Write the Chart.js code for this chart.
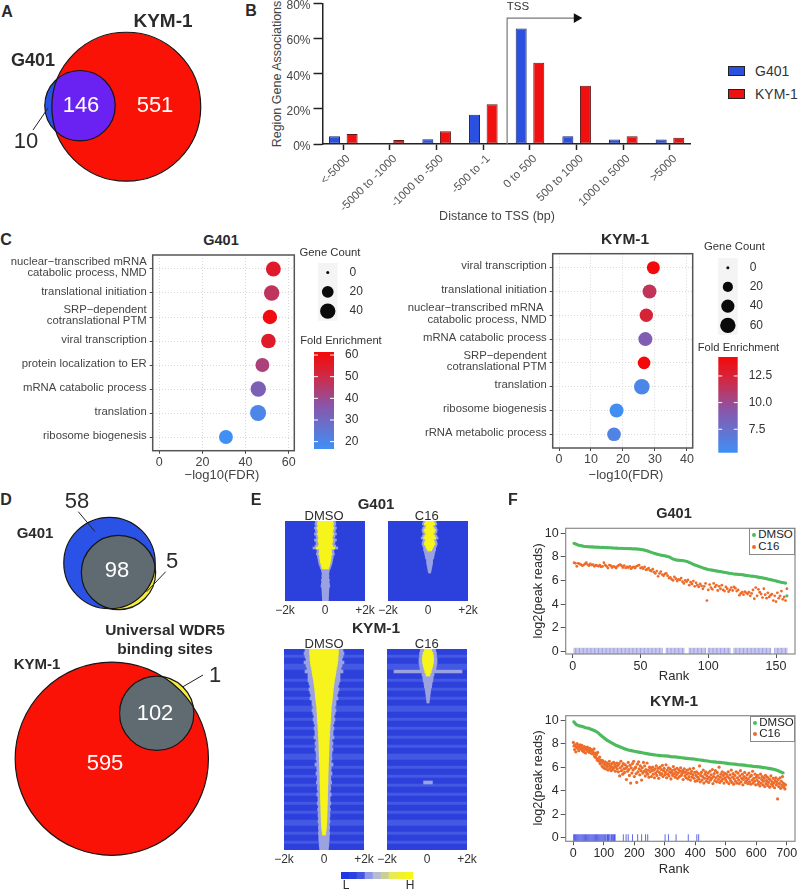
<!DOCTYPE html>
<html lang="en">
<head>
<meta charset="UTF-8">
<title>WDR5 binding sites</title>
<script src="https://cdn.jsdelivr.net/npm/chart.js@4"></script>
<style>
  html, body { margin: 0; padding: 0; background: #fff; }
  #page { position: relative; width: 799px; height: 889px; overflow: hidden; font-family: "Liberation Sans", Arial, sans-serif; color: #222; }
  #page canvas { position: absolute; }
  .txt { position: absolute; white-space: nowrap; transform: translate(-50%, -50%); z-index: 5; line-height: 1; }
  .rot { transform: translate(-50%, -50%) rotate(-90deg); }
  .b { font-weight: bold; }
  .swatch { position: absolute; box-sizing: border-box; border: 1px solid #222; z-index: 5; }
  .lg { position: absolute; box-sizing: border-box; background: #fff; border: 1px solid #888; z-index: 6; }
  .dot { position: absolute; width: 4px; height: 4px; border-radius: 50%; z-index: 7; }
</style>
</head>
<body>
<div id="page"></div>
<script>
// ---- data ----
const vennACounts = [10, 146, 551];
const vennDg401Counts = [58, 98, 5];
const vennDkymCounts = [595, 102, 1];

const tssCategories = ['<-5000', '-5000 to -1000', '-1000 to -500', '-500 to -1', '0 to 500', '500 to 1000', '1000 to 5000', '>5000'];
const tssG401 = [4.4, 0.5, 2.7, 16.7, 65.8, 4.4, 2.5, 2.5];
const tssKym = [5.7, 2.3, 7.2, 22.6, 46.3, 33.2, 4.4, 3.6];
const tssTicks = [0, 20, 40, 60, 80];

const goG401Terms = [['nuclear−transcribed mRNA', 'catabolic process, NMD'], 'translational initiation', ['SRP−dependent', 'cotranslational PTM'], 'viral transcription', 'protein localization to ER', 'mRNA catabolic process', 'translation', 'ribosome biogenesis'];
const goG401Fdr = [52.9, 52.1, 51.3, 50.6, 47.8, 45.9, 45.8, 30.9];
const goG401Count = [37, 40, 34, 35, 31, 40, 44, 31];
const goG401Fold = [55, 47, 60, 55, 43, 33, 20, 17];
const goG401FdrTicks = [0, 20, 40, 60];
const goG401CountKeys = [0, 20, 40];
const goG401FoldTicks = [20, 30, 40, 50, 60];

const goKymTerms = ['viral transcription', 'translational initiation', ['nuclear−transcribed mRNA ', 'catabolic process, NMD'], 'mRNA catabolic process', ['SRP−dependent', 'cotranslational PTM'], 'translation', 'ribosome biogenesis', 'rRNA metabolic process'];
const goKymFdr = [29.5, 28.3, 27.3, 27, 26.6, 25.9, 18, 17.2];
const goKymCount = [39, 47, 42, 47, 36, 62, 47, 44];
const goKymFold = [14.2, 11.5, 12.5, 8.8, 14.2, 6, 5.4, 6.2];
const goKymFdrTicks = [0, 10, 20, 30, 40];
const goKymCountKeys = [0, 20, 40, 60];
const goKymFoldTicks = [7.5, 10, 12.5];

// heatmaps: half width (kb) of the yellow core and of the pale halo, one value per row
const heatG401DmsoCore = [.38,.40,.36,.42,.38,.35,.40,.36,.33,.38,.35,.32,.36,.46,.30,.30,.33,.28,.28,.26,.25,.22,.2,.16,0,0,0,0,0,0,0,0,0,0,0,0,0,0,0,0];
const heatG401DmsoHalo = [.5,.52,.48,.55,.5,.48,.55,.48,.45,.55,.48,.45,.52,.62,.42,.42,.45,.4,.38,.36,.34,.32,.28,.25,.2,.18,.16,.18,.16,.2,.18,.2,.22,.18,.17,.17,.16,.16,.15,.15];
const heatG401C16Core = [.22,.26,.16,.2,.28,.24,.18,.24,.3,.2,.24,.27,.2,.16,.1,0,0,0,0,0,0,0,0,0,0,0,0,0,0,0,0,0,0,0,0,0,0,0,0,0];
const heatG401C16Halo = [.32,.36,.28,.34,.38,.36,.3,.36,.42,.32,.36,.38,.34,.3,.3,.26,.24,.22,.2,.15,.15,.14,.12,.1,.08,.06,0,0,0,0,0,0,0,0,0,0,0,0,0,0];
const heatKymBands = [0,0,1,0,0,1,1,0,0,0,1,0,0,1,0,0,1,0,0,1,1,0,0,1,0,0,1,0,0,1,0,0,1,0,0,1,1,0,0,1,0,0,1,0,0,1,0,0,1,0,0,1,0,0,1,0,0,1,1,0,0,1,0,0,1,0,0];
const heatKymDmsoCore = [.72,.72,.70,.70,.68,.66,.62,.60,.58,.55,.52,.50,.48,.46,.45,.43,.42,.40,.38,.36,.36,.34,.34,.33,.32,.30,.30,.28,.28,.27,.26,.26,.25,.25,.24,.24,.23,.23,.22,.22,.21,.21,.20,.20,.20,.19,.19,.18,.18,.18,.17,.17,.16,.16,.15,.15,.14,.14,.13,.12,.10,.08,0,0,0,0,0];
const heatKymDmsoHalo = [.95,1.0,.95,.9,1.0,.9,.85,.95,.8,.8,.8,.75,.7,.75,.7,.65,.7,.6,.6,.55,.6,.55,.5,.55,.5,.45,.5,.45,.45,.5,.4,.45,.4,.45,.4,.38,.4,.36,.45,.36,.35,.4,.34,.34,.38,.32,.34,.3,.36,.3,.3,.34,.28,.32,.28,.3,.28,.3,.26,.28,.26,.28,.26,.26,.24,.24,.22];
const heatKymC16Core = [.18,.24,.27,.28,.27,.24,.2,.16,.1,0,0,0,0,0,0,0,0,0,0,0,0,0,0,0,0,0,0,0,0,0,0,0,0,0,0,0,0,0,0,0,0,0,0,0,0,0,0,0,0,0,0,0,0,0,0,0,0,0,0,0,0,0,0,0,0,0,0];
const heatKymC16Halo = [.38,.42,.42,.45,.45,.42,.4,1.7,.3,.26,.24,.2,.18,.14,.12,.1,.08,.06,0,0,0,0,0,0,0,0,0,0,0,0,0,0,0,0,0,0,0,0,0,0,0,0,0,0,.22,0,0,0,0,0,0,0,0,0,0,0,0,0,0,0,0,0,0,0,0,0,0];
const heatTicks = [-2, 0, 2];
const heatTickLabels = ['−2k', '0', '+2k'];
const heatKeySteps = [1, 2, 3, 4, 5, 6, 7, 8, 9];

const rankG401Dmso = [9.15,9.1,9.05,9.0,8.98,8.95,8.93,8.9,8.88,8.87,8.86,8.85,8.85,8.84,8.84,8.83,8.83,8.82,8.82,8.81,8.81,8.8,8.8,8.79,8.78,8.78,8.77,8.77,8.76,8.75,8.75,8.74,8.74,8.73,8.73,8.72,8.72,8.71,8.71,8.7,8.7,8.69,8.69,8.68,8.68,8.67,8.67,8.66,8.65,8.64,8.62,8.6,8.57,8.54,8.5,8.47,8.43,8.39,8.35,8.3,8.27,8.24,8.21,8.18,8.15,8.13,8.11,8.09,8.06,8.03,8.0,7.95,7.88,7.82,7.78,7.75,7.73,7.72,7.71,7.7,7.68,7.67,7.65,7.62,7.58,7.53,7.48,7.42,7.37,7.32,7.28,7.24,7.2,7.16,7.12,7.07,7.03,7.0,6.96,6.93,6.91,6.89,6.87,6.85,6.83,6.81,6.79,6.77,6.75,6.73,6.71,6.69,6.67,6.65,6.63,6.61,6.59,6.57,6.55,6.54,6.53,6.52,6.51,6.5,6.49,6.47,6.45,6.43,6.41,6.4,6.38,6.37,6.36,6.34,6.33,6.3,6.28,6.26,6.24,6.22,6.2,6.17,6.15,6.12,6.1,6.07,6.05,6.02,5.99,5.96,5.93,5.9,5.87,5.84,5.82,5.8,5.78,4.7];
const rankG401C16 = [7.5,7.45,7.2,7.45,7.4,7.35,7.25,7.3,7.4,7.5,7.35,7.25,7.4,7.3,7.35,7.2,7.3,7.25,7.2,7.3,7.15,7.2,7.5,7.3,7.2,7.05,7.3,7.25,7.1,7.2,7.15,7.05,7.2,7.3,7.35,7.25,7.1,7.25,7.05,7.15,7.1,7.2,7.0,7.1,7.15,7.05,7.2,7.25,7.3,7.05,7.1,7.0,7.15,6.9,6.95,7.05,6.85,6.8,6.95,6.7,6.6,6.8,6.35,6.6,6.75,6.5,6.4,6.55,6.6,6.4,6.2,6.25,6.1,6.0,6.3,6.15,5.95,6.1,6.05,6.2,5.9,5.75,6.0,5.9,6.05,5.6,5.85,5.7,5.95,5.5,5.8,5.6,5.45,5.7,5.55,5.3,5.5,5.75,4.3,5.2,5.65,5.4,5.25,5.75,5.45,5.6,5.15,5.5,5.3,5.6,5.2,5.1,5.45,5.3,5.05,5.2,5.4,5.15,5.45,5.35,5.1,5.2,4.75,4.9,5.0,4.8,5.05,4.95,4.85,5.0,4.7,4.9,5.2,4.45,5.4,4.7,5.25,5.0,4.85,4.55,5.3,4.8,4.5,4.95,4.6,4.75,4.85,4.3,4.7,4.2,4.95,4.5,4.7,5.1,4.4,4.6,4.3,5.3];
const rugG401 = [1,2,3,4,5,6,7,8,9,10,11,12,13,14,15,16,17,18,19,20,21,22,23,24,25,26,27,28,29,30,31,32,33,34,35,36,37,38,39,40,41,42,43,44,45,46,47,48,49,50,51,52,53,54,55,56,57,58,59,60,61,62,63,64,65,66,69,70,71,72,73,74,75,76,77,78,79,80,81,82,86,87,88,89,90,91,92,93,94,95,96,97,98,100,101,102,103,104,105,106,107,108,109,110,111,112,113,114,115,116,119,120,121,122,123,124,125,126,127,128,129,130,131,132,133,134,135,136,137,138,139,140,141,142,143,144,145,146,149,150,151,152,153,154,155,156,157,158];
// KYM-1: one reading every 10 ranks (DMSO) and every 2 ranks (C16)
const rankKymDmso = [9.9,9.6,9.5,9.45,9.35,9.3,9.2,9.1,8.95,8.7,8.5,8.3,8.15,8.0,7.85,7.75,7.65,7.55,7.45,7.4,7.35,7.3,7.25,7.2,7.15,7.1,7.07,7.03,7.0,6.97,6.95,6.93,6.9,6.88,6.85,6.82,6.78,6.75,6.72,6.7,6.67,6.63,6.6,6.55,6.52,6.48,6.45,6.42,6.4,6.37,6.34,6.3,6.27,6.25,6.22,6.2,6.17,6.13,6.1,6.07,6.05,6.02,5.98,5.95,5.9,5.85,5.8,5.72,5.6,5.48];
const rankKymC16 = [8.1,7.8,7.5,7.9,7.3,7.7,8.0,7.6,7.85,7.4,7.75,7.9,7.55,7.7,7.85,7.4,
  7.6,7.3,7.75,7.5,7.2,7.65,7.45,7.7,7.35,7.55,7.25,7.6,7.4,7.5,7.15,
  7.45,7.3,7.1,7.55,6.9,7.2,6.8,7.05,6.6,7.25,6.7,6.5,6.85,6.3,6.6,
  6.4,6.1,6.55,6.0,6.3,5.9,6.45,6.15,5.85,6.35,6.05,5.75,6.25,6.5,5.9,6.1,5.7,6.3,6.0,5.8,6.4,5.95,6.2,5.65,6.05,6.35,5.85,6.15,5.6,6.3,
  5.25,5.95,6.5,5.7,6.1,5.4,6.3,5.85,5.55,6.2,5.9,4.95,6.05,5.65,6.4,5.8,5.3,6.15,4.65,5.95,5.5,6.3,5.75,6.5,5.2,5.9,6.0,5.45,4.7,6.25,5.6,6.45,5.85,5.35,6.1,5.7,4.9,5.95,5.5,6.4,5.65,6.1,5.25,5.8,5.55,6.35,5.4,5.75,5.15,6.0,
  5.6,5.9,5.2,5.7,6.0,5.4,5.75,5.1,5.85,5.5,6.1,5.3,5.65,5.9,5.05,5.55,6.0,5.35,5.8,5.45,6.15,5.2,5.7,5.9,5.35,5.55,6.2,5.1,5.75,5.4,5.95,5.25,5.6,5.85,5.0,5.5,5.7,5.3,6.05,5.45,5.8,5.15,5.6,5.35,5.9,5.05,5.5,5.75,5.2,5.65,5.95,5.3,5.45,5.7,4.95,5.55,5.85,5.25,5.6,5.1,5.4,5.75,5.0,5.5,5.2,5.85,4.9,5.45,5.65,5.15,5.35,5.9,5.05,5.55,4.8,
  5.3,5.6,4.85,5.15,5.45,5.0,6.1,4.75,5.3,5.55,4.9,5.2,5.75,4.65,5.05,5.4,5.6,4.8,5.25,5.0,5.5,4.7,5.15,5.65,4.9,5.35,5.05,5.8,4.6,5.2,5.45,4.85,5.7,5.1,4.75,5.55,5.25,4.95,6.0,4.7,5.15,5.4,4.85,5.6,5.0,5.3,4.65,5.5,5.1,4.9,
  5.4,4.75,5.2,5.6,4.6,5.05,5.35,4.85,5.75,4.7,5.15,5.45,4.55,5.0,5.3,4.8,5.6,4.65,5.1,5.5,4.9,4.6,5.25,5.7,4.75,5.05,5.4,4.5,4.95,5.2,5.55,4.7,5.1,4.85,5.35,4.6,5.0,5.5,4.75,5.2,4.55,5.3,4.9,5.65,4.65,5.05,4.8,5.4,4.5,5.15,
  4.9,5.3,4.55,4.75,5.1,4.4,5.4,4.65,4.95,5.2,4.5,4.8,5.05,4.35,5.3,4.6,4.85,5.15,4.45,4.7,5.0,4.3,4.9,5.25,4.55,4.75,4.4,5.05,4.65,4.25,4.85,5.1,4.5,4.7,3.3,4.95,4.35,4.6,5.1,4.2,4.8,4.45,5.2,4.65,4.3,4.55,4.15,4.5];
const rugKym = [1,4,7,10,13,16,19,22,25,28,31,34,37,40,43,46,49,52,55,58,61,64,67,70,73,76,79,82,85,88,91,94,97,100,103,106,110,112,115,117,120,124,126,129,132,135,137,164,173,180,194,211,224,237,244,301,312,337,377,405,411];
const rankG401XTicks = [0, 50, 100, 150];
const rankKymXTicks = [0, 100, 200, 300, 400, 500, 600, 700];
const rankYTicks = [0, 2, 4, 6, 8, 10];

// ---- helpers ----
Chart.defaults.animation = false;
Chart.defaults.responsive = false;
Chart.defaults.devicePixelRatio = 1;
Chart.defaults.layout.autoPadding = false;
Chart.defaults.font.family = '"Liberation Sans", Arial, sans-serif';
Chart.defaults.plugins.legend.display = false;
Chart.defaults.plugins.tooltip.enabled = false;

const page = document.getElementById('page');

function addCanvas(box, css) {
  const c = document.createElement('canvas');
  c.width = box.w;
  c.height = box.h;
  c.style.left = box.x + 'px';
  c.style.top = box.y + 'px';
  if (css) c.style.filter = css;
  page.appendChild(c);
  return c;
}

// sides that hold a visible axis get no padding, the axis box fills them (see fitAxis)
function padFor(box, area, axisSides) {
  const p = { left: area.l - box.x, top: area.t - box.y, right: box.x + box.w - area.r, bottom: box.y + box.h - area.b };
  (axisSides || []).forEach(k => { p[k] = 0; });
  return p;
}
function fitAxis(box, area) {
  return s => {
    if (s.isHorizontal()) s.height = box.y + box.h - area.b;
    else if (s.options.position === 'right') s.width = box.x + box.w - area.r;
    else s.width = area.l - box.x;
    s.paddingLeft = s.paddingRight = s.paddingTop = s.paddingBottom = 0;
  };
}
function fixedTicks(vals) {
  return s => { s.ticks = vals.map(value => ({ value })); };
}

function text(str, x, y, size, opts) {
  opts = opts || {};
  const d = document.createElement('div');
  d.className = 'txt' + (opts.bold ? ' b' : '') + (opts.rot ? ' rot' : '');
  d.textContent = str;
  d.style.left = x + 'px';
  d.style.top = y + 'px';
  d.style.fontSize = size + 'px';
  d.style.color = opts.color || '#2b2b2b';
  page.appendChild(d);
}

const panelDeco = {
  id: 'panelDeco',
  beforeDatasetsDraw(chart, args, o) {
    if (!o.fill) return;
    const a = chart.chartArea;
    chart.ctx.fillStyle = o.fill;
    chart.ctx.fillRect(a.left, a.top, a.right - a.left, a.bottom - a.top);
  },
  afterDatasetsDraw(chart, args, o) {
    const a = chart.chartArea, ctx = chart.ctx;
    if (o.stroke) {
      ctx.strokeStyle = o.stroke;
      ctx.lineWidth = o.width || 1;
      ctx.strokeRect(a.left, a.top, a.right - a.left, a.bottom - a.top);
    }
    if (o.whiteTicks) {
      ctx.strokeStyle = '#fff';
      ctx.lineWidth = 1;
      const len = (a.right - a.left) / 5;
      chart.scales.y.ticks.forEach(t => {
        const y = chart.scales.y.getPixelForValue(t.value);
        ctx.beginPath();
        ctx.moveTo(a.left, y); ctx.lineTo(a.left + len, y);
        ctx.moveTo(a.right - len, y); ctx.lineTo(a.right, y);
        ctx.stroke();
      });
    }
  }
};
const clipCircle = {
  id: 'clipCircle',
  beforeDatasetDraw(chart, args) {
    const c = chart.data.datasets[args.index].clipTo;
    if (!c) return;
    const ctx = chart.ctx;
    ctx.save();
    ctx.beginPath();
    ctx.arc(chart.scales.x.getPixelForValue(c.x), chart.scales.y.getPixelForValue(c.y), c.r, 0, Math.PI * 2);
    ctx.clip();
  },
  afterDatasetDraw(chart, args) {
    if (chart.data.datasets[args.index].clipTo) chart.ctx.restore();
  }
};
Chart.register(panelDeco, clipCircle);

// ---- venns, area proportional to set size ----
function vennChart(box, layers, leaders) {
  const sets = layers.map((l, i) => ({
    type: 'bubble',
    data: [{ x: l.c.x, y: l.c.y, r: l.c.r }],
    backgroundColor: l.fill || 'rgba(0,0,0,0)',
    borderColor: l.fill && !l.line ? l.fill : '#161616',
    borderWidth: l.line ? 1.2 : 0,
    clipTo: l.clipTo,
    clip: false,
    order: -i
  }));
  leaders.forEach(seg => sets.push({
    type: 'line',
    data: seg.map(p => ({ x: p[0], y: p[1] })),
    borderColor: '#222',
    borderWidth: 1,
    pointRadius: 0,
    clip: false,
    order: -99
  }));
  new Chart(addCanvas(box), {
    type: 'bubble',
    data: { datasets: sets },
    options: {
      scales: {
        x: { type: 'linear', display: false, min: box.x, max: box.x + box.w },
        y: { type: 'linear', display: false, reverse: true, min: box.y, max: box.y + box.h }
      }
    }
  });
}

const blue = '#2a52e6', red = '#fb1206', purple = '#6a22f2', grey = '#5f6b70', yellow = '#f5ee3a';

const aKym = { x: 126.3, y: 106.7, r: 2.82 * Math.sqrt(vennACounts[1] + vennACounts[2]) };
const aG401 = { x: 80, y: 105.7, r: 2.82 * Math.sqrt(vennACounts[0] + vennACounts[1]) };
vennChart({ x: 0, y: 20, w: 240, h: 175 }, [
  { c: aG401, fill: blue },
  { c: aKym, fill: red },
  { c: aG401, fill: purple, clipTo: aKym },
  { c: aKym, line: true },
  { c: aG401, line: true }
], [[[33, 130], [48, 108]]]);

const dG401 = { x: 109.5, y: 563, r: 3.66 * Math.sqrt(vennDg401Counts[0] + vennDg401Counts[1]) };
const dUni = { x: 118.5, y: 572.5, r: 3.66 * Math.sqrt(vennDg401Counts[1] + vennDg401Counts[2]) };
vennChart({ x: 40, y: 505, w: 150, h: 120 }, [
  { c: dUni, fill: yellow },
  { c: dG401, fill: blue },
  { c: dUni, fill: grey, clipTo: dG401 },
  { c: dG401, line: true },
  { c: dUni, line: true }
], [[[78.3, 511.7], [95, 531.7]], [[165.7, 571.7], [146.7, 591.7]]]);

const dKym = { x: 111.8, y: 758.7, r: 3.66 * Math.sqrt(vennDkymCounts[0] + vennDkymCounts[1]) };
const dUni2 = { x: 156.7, y: 713.3, r: 3.66 * Math.sqrt(vennDkymCounts[1] + vennDkymCounts[2]) };
vennChart({ x: 5, y: 655, w: 215, h: 210 }, [
  { c: dUni2, fill: yellow },
  { c: dKym, fill: red },
  { c: dUni2, fill: grey, clipTo: dKym },
  { c: dKym, line: true },
  { c: dUni2, line: true }
], [[[203, 675], [183, 686.7]]]);

// ---- B, genomic distribution ----
(function () {
  const box = { x: 285, y: -8, w: 430, h: 220 };
  const area = { l: 322.5, t: 3.5, r: 690.7, b: 144 };
  const barSet = (vals, fill, edge) => ({
    data: vals.map((v, i) => ({ x: i + 1, y: v })),
    backgroundColor: fill,
    borderColor: edge,
    borderWidth: 1,
    borderSkipped: false,
    categoryPercentage: 0.754,
    barPercentage: 0.625
  });
  const fit = fitAxis(box, area);
  new Chart(addCanvas(box), {
    type: 'bar',
    data: {
      datasets: [
        barSet(tssG401, '#2a50e2', '#1d2a66'),
        barSet(tssKym, '#f01010', '#5e1a1a'),
        {
          type: 'line',
          data: [{ x: 4.51, y: 0 }, { x: 4.51, y: 71.7 }, { x: 6.0, y: 71.7 }],
          borderColor: '#777',
          borderWidth: 1.2,
          pointRadius: [0, 0, 4.5],
          pointStyle: 'triangle',
          pointRotation: 90,
          pointBackgroundColor: '#111',
          pointBorderColor: '#111',
          order: -1
        }
      ]
    },
    options: {
      layout: { padding: padFor(box, area, ['left', 'bottom']) },
      scales: {
        x: {
          type: 'linear', offset: false, min: 0.554, max: 8.444,
          afterFit: fit,
          afterBuildTicks: fixedTicks(tssCategories.map((c, i) => i + 1)),
          grid: { offset: false, drawOnChartArea: false, tickLength: 6, tickColor: '#222', tickWidth: 1.5 },
          border: { color: '#222', width: 1.5 },
          ticks: { autoSkip: false, minRotation: 45, maxRotation: 45, color: '#555', font: { size: 11.5 }, padding: 2, labelOffset: 5, callback: v => tssCategories[v - 1] }
        },
        y: {
          min: 0, max: 80,
          afterFit: fit,
          afterBuildTicks: fixedTicks(tssTicks),
          grid: { drawOnChartArea: false, tickLength: 9, tickColor: '#222', tickWidth: 1.5 },
          border: { color: '#222', width: 1.5 },
          ticks: { color: '#444', font: { size: 12 }, padding: 3, labelOffset: 2.5, callback: v => v + '%' }
        }
      }
    }
  });
})();

// ---- C, GO dot plots ----
const foldStops = [[0, [63, 144, 245]], [0.45, [138, 85, 168]], [0.75, [207, 42, 69]], [1, [245, 8, 8]]];
function foldColor(t) {
  t = Math.min(1, Math.max(0, t));
  for (let i = 1; i < foldStops.length; i++) {
    if (t <= foldStops[i][0]) {
      const a = foldStops[i - 1], b = foldStops[i];
      const f = (t - a[0]) / (b[0] - a[0]);
      return 'rgb(' + a[1].map((v, k) => Math.round(v + (b[1][k] - v) * f)).join(',') + ')';
    }
  }
  return 'rgb(245,8,8)';
}
const countRadius = (c, top) => 1.5 + Math.sqrt(c / top) * 6.2;

function dotPlot(box, area, cfg) {
  const fit = fitAxis(box, area);
  new Chart(addCanvas(box), {
    type: 'bubble',
    data: {
      datasets: [{
        data: cfg.fdr.map((v, i) => ({ x: v, y: i + 1, r: countRadius(cfg.count[i], cfg.countTop) })),
        backgroundColor: cfg.fold.map(v => foldColor((v - cfg.foldLo) / (cfg.foldHi - cfg.foldLo))),
        borderWidth: 0,
        clip: false
      }]
    },
    options: {
      layout: { padding: padFor(box, area, ['left', 'bottom']) },
      plugins: { panelDeco: { stroke: '#555', width: 1.5 } },
      scales: {
        x: {
          type: 'linear', min: cfg.xMin, max: cfg.xMax,
          afterFit: fit,
          afterBuildTicks: fixedTicks(cfg.xTicks),
          grid: { color: '#d8d8d8', tickColor: '#444', tickLength: 3, tickBorderDash: [] },
          border: { display: false, dash: [1, 2] },
          ticks: { color: '#444', font: { size: 12.5 }, padding: 1, autoSkip: false, maxRotation: 0 }
        },
        y: {
          type: 'linear', reverse: true, min: cfg.yMin, max: cfg.yMax,
          afterFit: fit,
          afterBuildTicks: fixedTicks(cfg.terms.map((t, i) => i + 1)),
          grid: { color: '#d8d8d8', tickColor: '#444', tickLength: 3, tickBorderDash: [] },
          border: { display: false, dash: [1, 2] },
          ticks: { color: '#444', font: { size: 11.3, lineHeight: 1 }, padding: 3, autoSkip: false, labelOffset: -1.5, callback: v => cfg.terms[v - 1] }
        }
      }
    }
  });
}

function sizeKey(box, area, keys) {
  new Chart(addCanvas(box), {
    type: 'bubble',
    data: {
      datasets: [{
        data: keys.map((k, i) => ({ x: 0.5, y: i, r: countRadius(k, keys[keys.length - 1]) })),
        backgroundColor: '#0a0a0a',
        borderWidth: 0,
        clip: false
      }]
    },
    options: {
      layout: { padding: padFor(box, area, ['right']) },
      plugins: { panelDeco: { fill: '#f4f4f4' } },
      scales: {
        x: { type: 'linear', display: false, min: 0, max: 1 },
        y: {
          type: 'linear', position: 'right', reverse: true, min: -0.5, max: keys.length - 0.5,
          afterFit: fitAxis(box, area),
          afterBuildTicks: fixedTicks(keys.map((k, i) => i)),
          grid: { display: false },
          border: { display: false },
          ticks: { color: '#333', font: { size: 12 }, padding: 4, callback: v => keys[v] }
        }
      }
    }
  });
}

function foldBar(box, area, lo, hi, ticks) {
  new Chart(addCanvas(box), {
    type: 'bar',
    data: {
      labels: ['fold'],
      datasets: [{
        data: [[lo, hi]],
        barPercentage: 1,
        categoryPercentage: 1,
        backgroundColor: c => {
          const a = c.chart.chartArea;
          if (!a) return '#888';
          const g = c.chart.ctx.createLinearGradient(0, a.bottom, 0, a.top);
          for (let i = 0; i <= 20; i++) g.addColorStop(i / 20, foldColor(i / 20));
          return g;
        }
      }]
    },
    options: {
      layout: { padding: padFor(box, area, ['right']) },
      plugins: { panelDeco: { whiteTicks: true } },
      scales: {
        x: { display: false },
        y: {
          position: 'right', min: lo, max: hi,
          afterFit: fitAxis(box, area),
          afterBuildTicks: fixedTicks(ticks),
          grid: { display: false },
          border: { display: false },
          ticks: { color: '#333', font: { size: 12 }, padding: 3, callback: v => (ticks.some(t => t % 1) ? v.toFixed(1) : v) }
        }
      }
    }
  });
}

dotPlot({ x: 0, y: 250, w: 305, h: 222 }, { l: 152.7, t: 255, r: 294.3, b: 450.7 }, {
  terms: goG401Terms, fdr: goG401Fdr, count: goG401Count, countTop: 40, fold: goG401Fold, foldLo: 16.6, foldHi: 61.4,
  xMin: -3.07, xMax: 62.6, yMin: 0.417, yMax: 8.57, xTicks: goG401FdrTicks
});
dotPlot({ x: 400, y: 248, w: 305, h: 222 }, { l: 552.7, t: 253.7, r: 692.7, b: 448 }, {
  terms: goKymTerms, fdr: goKymFdr, count: goKymCount, countTop: 60, fold: goKymFold, foldLo: 5.3, foldHi: 14.28,
  xMin: -1.97, xMax: 41.8, yMin: 0.412, yMax: 8.575, xTicks: goKymFdrTicks
});
sizeKey({ x: 310, y: 258, w: 55, h: 68 }, { l: 318, t: 263, r: 337.5, b: 320.7 }, goG401CountKeys);
sizeKey({ x: 710, y: 253, w: 60, h: 87 }, { l: 718, t: 258, r: 737.7, b: 335 }, goKymCountKeys);
foldBar({ x: 308, y: 348, w: 60, h: 105 }, { l: 314, t: 352, r: 334, b: 449 }, 16.6, 61.4, goG401FoldTicks);
foldBar({ x: 712, y: 353, w: 75, h: 104 }, { l: 718.3, t: 357, r: 737.7, b: 452.7 }, 5.3, 14.28, goKymFoldTicks);

// ---- E, heatmaps ----
function heatChart(box, area, core, halo, bands, shift) {
  const rows = core.map((v, i) => i + 1);
  const span = (w) => (w > 0 ? [shift - w, shift + w] : null);
  const common = { barPercentage: 1, categoryPercentage: 1, borderWidth: 0, grouped: false };
  // the cells go on a softened canvas, the axis on a sharp one above it
  new Chart(addCanvas(box, 'blur(0.6px)'), {
    type: 'bar',
    data: {
      labels: rows,
      datasets: [
        Object.assign({ data: core.map(span), backgroundColor: '#f6f41c', order: 0 }, common),
        Object.assign({ data: halo.map(span), backgroundColor: '#9aa2e2', order: 1 }, common),
        Object.assign({ data: rows.map(() => [-2, 2]), backgroundColor: rows.map((r, i) => (bands && bands[i] ? '#4358e3' : '#2d40dc')), order: 2 }, common)
      ]
    },
    options: {
      indexAxis: 'y',
      layout: { padding: padFor(box, area) },
      scales: {
        y: { display: false },
        x: { type: 'linear', display: false, min: -2, max: 2 }
      }
    }
  });
  new Chart(addCanvas(box), {
    type: 'scatter',
    data: { datasets: [{ data: [] }] },
    options: {
      layout: { padding: padFor(box, area, ['bottom']) },
      scales: {
        y: { display: false },
        x: {
          type: 'linear', min: -2, max: 2,
          afterFit: fitAxis(box, area),
          afterBuildTicks: fixedTicks(heatTicks),
          grid: { display: false, drawTicks: false },
          border: { display: false },
          ticks: { color: '#333', font: { size: 12 }, padding: 2, autoSkip: false, maxRotation: 0, callback: v => heatTickLabels[heatTicks.indexOf(v)] }
        }
      }
    }
  });
}
heatChart({ x: 265, y: 516, w: 120, h: 100 }, { l: 285, t: 521, r: 365, b: 601 }, heatG401DmsoCore, heatG401DmsoHalo, null, 0.02);
heatChart({ x: 368, y: 516, w: 120, h: 100 }, { l: 388, t: 521, r: 468, b: 601 }, heatG401C16Core, heatG401C16Halo, null, 0.08);
heatChart({ x: 264, y: 644, w: 120, h: 222 }, { l: 284, t: 649, r: 364, b: 850 }, heatKymDmsoCore, heatKymDmsoHalo, heatKymBands, 0);
heatChart({ x: 367, y: 644, w: 120, h: 222 }, { l: 387, t: 649, r: 467, b: 850 }, heatKymC16Core, heatKymC16Halo, heatKymBands, 0.05);

(function () {
  const box = { x: 338, y: 869, w: 78, h: 12 };
  const area = { l: 341, t: 872, r: 413, b: 879 };
  const cols = ['#1f38e2', '#2a40e0', '#4356e2', '#8f97ea', '#b6bad2', '#c9cf96', '#e6ea55', '#f0f02c', '#f6f618'];
  new Chart(addCanvas(box), {
    type: 'bar',
    data: { labels: heatKeySteps, datasets: [{ data: heatKeySteps.map(() => 1), backgroundColor: cols, barPercentage: 1, categoryPercentage: 1 }] },
    options: {
      layout: { padding: padFor(box, area) },
      scales: { x: { display: false }, y: { display: false, min: 0, max: 1 } }
    }
  });
})();

// ---- F, rank plots ----
function rankChart(box, area, cfg) {
  const fit = fitAxis(box, area);
  new Chart(addCanvas(box), {
    type: 'scatter',
    data: {
      datasets: [
        {
          data: cfg.dmso,
          borderColor: '#4cbb5e', backgroundColor: '#4cbb5e',
          pointRadius: cfg.dmsoR, pointBorderWidth: 0,
          showLine: cfg.dmsoLine, borderWidth: 3.2, order: 1
        },
        {
          data: cfg.c16,
          backgroundColor: '#ee6c2a',
          pointRadius: cfg.c16R, pointBorderWidth: 0, order: 0
        },
        {
          data: cfg.rug.map(r => ({ x: r, y: 0 })),
          pointStyle: 'line', pointRotation: 90, pointRadius: 3.5,
          pointBorderColor: cfg.rugColor, pointBorderWidth: 1, order: 2
        }
      ]
    },
    options: {
      layout: { padding: padFor(box, area, ['left', 'bottom']) },
      plugins: { panelDeco: { stroke: '#8a8a8a', width: 1.2 } },
      scales: {
        x: {
          type: 'linear', min: cfg.xMin, max: cfg.xMax,
          afterFit: fit,
          afterBuildTicks: fixedTicks(cfg.xTicks),
          grid: { drawOnChartArea: false, tickColor: '#555', tickLength: 4 },
          border: { display: false },
          ticks: { color: '#2b2b2b', font: { size: 12.5 }, padding: 1, autoSkip: false, maxRotation: 0 }
        },
        y: {
          type: 'linear', min: cfg.yMin, max: cfg.yMax,
          afterFit: fit,
          afterBuildTicks: fixedTicks(rankYTicks),
          grid: { drawOnChartArea: false, tickColor: '#555', tickLength: 5 },
          border: { display: false },
          ticks: { color: '#2b2b2b', font: { size: 12.5 }, padding: 2, autoSkip: false }
        }
      }
    }
  });
}
rankChart({ x: 535, y: 520, w: 264, h: 152 }, { l: 565.7, t: 528.3, r: 795, b: 654 }, {
  dmso: rankG401Dmso.map((v, i) => ({ x: i + 1, y: v })),
  c16: rankG401C16.map((v, i) => ({ x: i + 1, y: v })),
  rug: rugG401, rugColor: 'rgba(50,50,190,0.45)', dmsoR: 1.6, c16R: 1.4, dmsoLine: false,
  xMin: -5.2, xMax: 164, yMin: -0.23, yMax: 10.42, xTicks: rankG401XTicks
});
rankChart({ x: 535, y: 708, w: 264, h: 152 }, { l: 565.7, t: 715.7, r: 795, b: 841.3 }, {
  dmso: rankKymDmso.map((v, i) => ({ x: i * 10, y: v })),
  c16: rankKymC16.map((v, i) => ({ x: i * 2, y: v })),
  rug: rugKym, rugColor: 'rgba(40,55,225,0.75)', dmsoR: 1, c16R: 1.6, dmsoLine: true,
  xMin: -25, xMax: 727, yMin: -0.3, yMax: 10.37, xTicks: rankKymXTicks
});

// ---- text and small html keys ----
[['A', 7, 12], ['B', 251, 11], ['C', 6, 240], ['D', 6, 500], ['E', 256, 500], ['F', 513, 500]].forEach(p => text(p[0], p[1], p[2], 16, { bold: true }));

text('KYM-1', 163, 20, 19, { bold: true });
text('G401', 33, 60, 18, { bold: true });
text(String(vennACounts[1]), 81, 105, 22, { color: '#fff' });
text(String(vennACounts[2]), 155, 105, 22, { color: '#fff' });
text(String(vennACounts[0]), 26, 141, 22);

text('Region Gene Associations', 277, 74, 12.5, { rot: true, color: '#444' });
text('Distance to TSS (bp)', 497, 216, 12.5, { color: '#444' });
text('TSS', 518, 6.5, 11.5, { color: '#333' });
[['G401', 66, '#2a50e2'], ['KYM-1', 88.7, '#f01010']].forEach(r => {
  const s = document.createElement('div');
  s.className = 'swatch';
  s.style.cssText = 'left:728px;top:' + r[1] + 'px;width:17px;height:10px;background:' + r[2];
  page.appendChild(s);
  const d = document.createElement('div');
  d.className = 'txt';
  d.textContent = r[0];
  d.style.cssText = 'left:755px;top:' + (r[1] + 5) + 'px;font-size:14px;transform:translate(0,-50%);color:#333';
  page.appendChild(d);
});

text('G401', 221, 240, 14.5, { bold: true });
text('KYM-1', 625, 239, 15.5, { bold: true });
text('Gene Count', 330, 253, 11.3, { color: '#333' });
text('Fold Enrichment', 341, 341, 11.2, { color: '#333' });
text('Gene Count', 734.5, 247, 11.3, { color: '#333' });
text('Fold Enrichment', 738.5, 348, 11.2, { color: '#333' });
text('−log10(FDR)', 222, 474, 13, { color: '#444' });
text('−log10(FDR)', 626, 474, 13, { color: '#444' });

text(String(vennDg401Counts[0]), 77, 501, 22);
text(String(vennDg401Counts[1]), 117, 570, 22, { color: '#fff' });
text(String(vennDg401Counts[2]), 172, 561, 22);
text('G401', 35, 532, 15, { bold: true });
text('Universal WDR5', 165, 630, 15.5, { bold: true });
text('binding sites', 165, 649, 15.5, { bold: true });
text('KYM-1', 37, 662.5, 15, { bold: true });
text(String(vennDkymCounts[2]), 215, 675, 22);
text(String(vennDkymCounts[1]), 155, 713, 22, { color: '#fff' });
text(String(vennDkymCounts[0]), 105, 763, 22, { color: '#fff' });

text('G401', 376, 503, 15, { bold: true });
text('DMSO', 324, 515, 13);
text('C16', 426.7, 515, 13);
text('KYM-1', 376, 627.7, 15.5, { bold: true });
text('DMSO', 324, 642.7, 13);
text('C16', 426.7, 642.7, 13);
text('L', 346, 885, 12);
text('H', 410, 885, 12);

text('G401', 674, 513, 14.5, { bold: true });
text('KYM-1', 674, 701, 15.5, { bold: true });
text('log2(peak reads)', 537.7, 591, 12.7, { rot: true });
text('log2(peak reads)', 537.7, 778, 12.7, { rot: true });
text('Rank', 674, 675, 13);
text('Rank', 674, 867.7, 13);

[[749.3, 528.3, 45.7, 26.4], [750.3, 715.7, 44.7, 26]].forEach(b => {
  const box = document.createElement('div');
  box.className = 'lg';
  box.style.cssText = 'left:' + b[0] + 'px;top:' + b[1] + 'px;width:' + b[2] + 'px;height:' + b[3] + 'px';
  page.appendChild(box);
  [['DMSO', 6.8, '#4cbb5e'], ['C16', 18.6, '#ee6c2a']].forEach(r => {
    const dot = document.createElement('div');
    dot.className = 'dot';
    dot.style.cssText = 'left:' + (b[0] + 3) + 'px;top:' + (b[1] + r[1] - 2) + 'px;background:' + r[2];
    page.appendChild(dot);
    const d = document.createElement('div');
    d.className = 'txt';
    d.textContent = r[0];
    d.style.cssText = 'left:' + (b[0] + 9) + 'px;top:' + (b[1] + r[1]) + 'px;font-size:11.5px;transform:translate(0,-50%);z-index:7;color:#222';
    page.appendChild(d);
  });
});
</script>
</body>
</html>
